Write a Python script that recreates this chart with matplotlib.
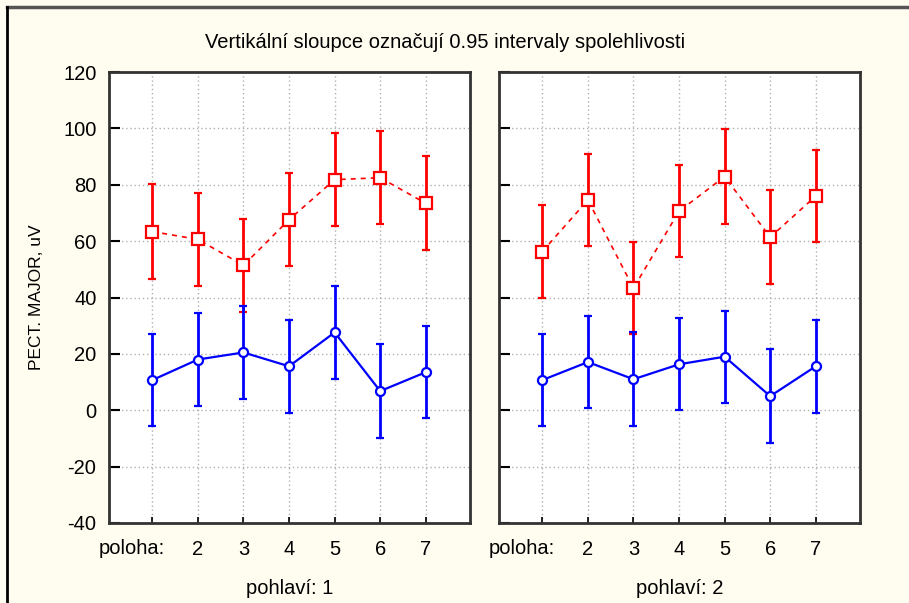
import matplotlib.pyplot as plt
import matplotlib.transforms as mtransforms
from matplotlib.lines import Line2D

plt.rcParams['font.family'] = ['Liberation Sans', 'DejaVu Sans']
plt.rcParams['axes.unicode_minus'] = False

# poloha (position) 1..7
poloha = [1, 2, 3, 4, 5, 6, 7]
tick_labels = ['', '2', '3', '4', '5', '6', '7']

# pohlavi 1
red_mean_1 = [63.4, 60.6, 51.4, 67.6, 81.8, 82.5, 73.4]
red_ci_1 = [16.7, 16.4, 16.5, 16.4, 16.4, 16.5, 16.7]
blue_mean_1 = [10.7, 18.0, 20.5, 15.6, 27.6, 6.8, 13.5]
blue_ci_1 = [16.4, 16.4, 16.4, 16.4, 16.4, 16.8, 16.4]

# pohlavi 2
red_mean_2 = [56.3, 74.6, 43.3, 70.6, 82.9, 61.4, 76.0]
red_ci_2 = [16.4, 16.4, 16.3, 16.3, 16.8, 16.7, 16.4]
blue_mean_2 = [10.7, 17.1, 11.0, 16.3, 19.0, 5.0, 15.6]
blue_ci_2 = [16.4, 16.4, 16.6, 16.3, 16.3, 16.6, 16.4]

panels = [
    ('pohlaví: 1', red_mean_1, red_ci_1, blue_mean_1, blue_ci_1),
    ('pohlaví: 2', red_mean_2, red_ci_2, blue_mean_2, blue_ci_2),
]

W, H = 909, 603
bg = '#fffcf0'
fig = plt.figure(figsize=(W / 100, H / 100), dpi=100, facecolor=bg)

# window-like frame
fig.add_artist(Line2D([7 / W, 1], [1 - 7 / H, 1 - 7 / H], color='#555555', lw=2.5))
fig.add_artist(Line2D([7 / W, 7 / W], [0, 1 - 7 / H], color='black', lw=2))

fig.text(445 / W, 1 - 42 / H, 'Vertikální sloupce označují 0.95 intervaly spolehlivosti',
         ha='center', va='center', fontsize=14.5)

lefts = [109, 499]
for i, (sub, rm, rc, bm, bc) in enumerate(panels):
    ax = fig.add_axes([lefts[i] / W, 1 - 523 / H, 361 / W, 451 / H])
    ax.set_facecolor('white')
    ax.set_xlim(0.05, 7.97)
    ax.set_ylim(-40, 120)
    ax.set_yticks(range(-40, 121, 20))
    ax.set_xticks(poloha)
    ax.set_xticklabels(tick_labels)
    ax.grid(True, color='#b0b0b0', linestyle=(0, (1, 2)), lw=1)
    ax.set_axisbelow(True)
    for s in ax.spines.values():
        s.set_color('#333333')
        s.set_linewidth(2)
    ax.tick_params(axis='y', direction='in', length=8, width=1.5, pad=9,
                   labelsize=14.5, labelleft=(i == 0))
    ax.tick_params(axis='x', direction='in', length=4, width=1.2, pad=12, labelsize=14.5)

    ax.errorbar(poloha, rm, yerr=rc, color='#ff0000', lw=1.2, ls=(0, (3, 3)),
                elinewidth=2, capsize=3, capthick=1.5, marker='s', ms=9,
                mfc='white', mec='#ff0000', mew=1.6, zorder=3)
    ax.errorbar(poloha, bm, yerr=bc, color='#0000ff', lw=1.6, ls='-',
                elinewidth=2, capsize=3, capthick=1.5, marker='o', ms=6.5,
                mfc='white', mec='#0000ff', mew=1.6, zorder=3)

    trans = mtransforms.blended_transform_factory(ax.transData, ax.transAxes)
    ax.text(1.28, -0.035, 'poloha:', transform=trans, ha='right', va='top', fontsize=14.5)
    ax.text(0.5, -0.125, sub, transform=ax.transAxes, ha='center', va='top', fontsize=14.5)

    if i == 0:
        ax.set_ylabel('PECT. MAJOR, uV', fontsize=12.5, labelpad=14)

fig.savefig('out.png', dpi=100, facecolor=bg)
